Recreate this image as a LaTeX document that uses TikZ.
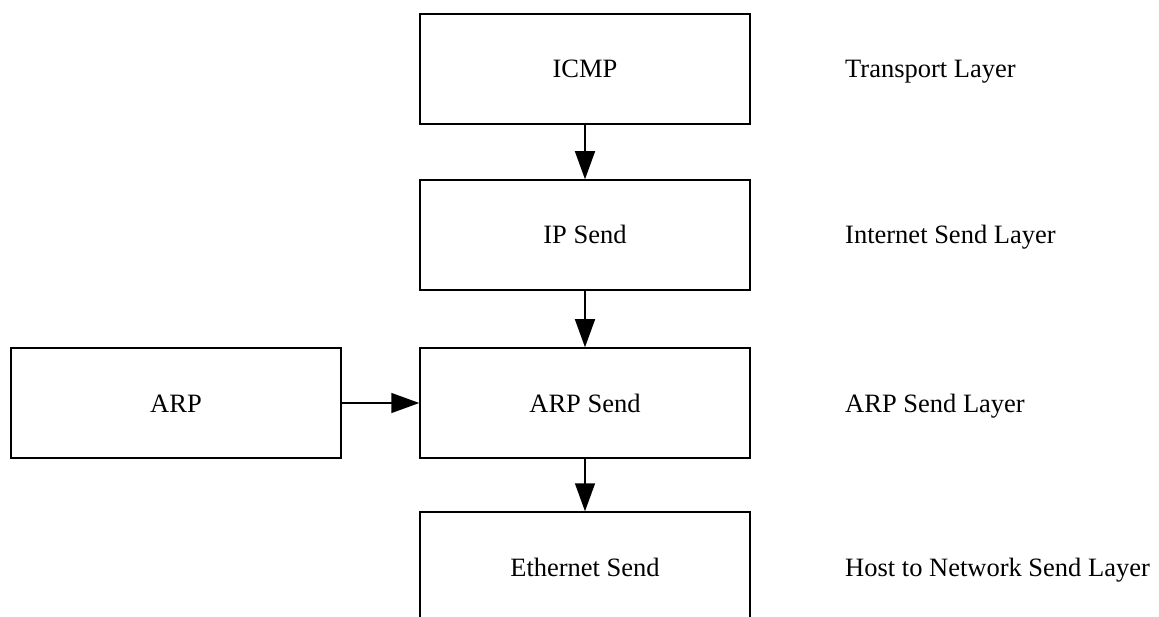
\documentclass[tikz,border=0pt]{standalone}
\usepackage{fontspec}
\setmainfont{Liberation Serif}
\usetikzlibrary{arrows.meta}
\begin{document}
\begin{tikzpicture}[x=1pt,y=-1pt,
  box/.style={draw=black,line width=1.5pt,minimum width=330pt,minimum height=110pt,inner sep=0pt,text height=18pt,text depth=0pt,font=\fontsize{26.5}{30}\selectfont},
  lay/.style={anchor=base west,inner sep=0pt,font=\fontsize{26.5}{30}\selectfont},
  conn/.style={line width=1.5pt,-{Triangle[length=28pt,width=20pt]}}]
\useasboundingbox (0,0) rectangle (1159,617);
\clip (0,0) rectangle (1159,617);
\node[box] (icmp) at (585,69) {ICMP};
\node[box] (ip) at (585,235) {IP Send};
\node[box] (arps) at (585,403) {ARP Send};
\node[box] (eth) at (585,567) {Ethernet Send};
\node[box] (arp) at (176,403) {ARP};
\node[lay] (l1) at (845,78) {Transport Layer};
\node[lay] (l2) at (845,244) {Internet Send Layer};
\node[lay] (l3) at (845,412) {ARP Send Layer};
\node[lay] (l4) at (845,576) {Host to Network Send Layer};
\draw[conn] (icmp) -- (ip);
\draw[conn] (ip) -- (arps);
\draw[conn] (arps) -- (eth.north);
\draw[conn] (arp) -- (arps);
\end{tikzpicture}
\end{document}
